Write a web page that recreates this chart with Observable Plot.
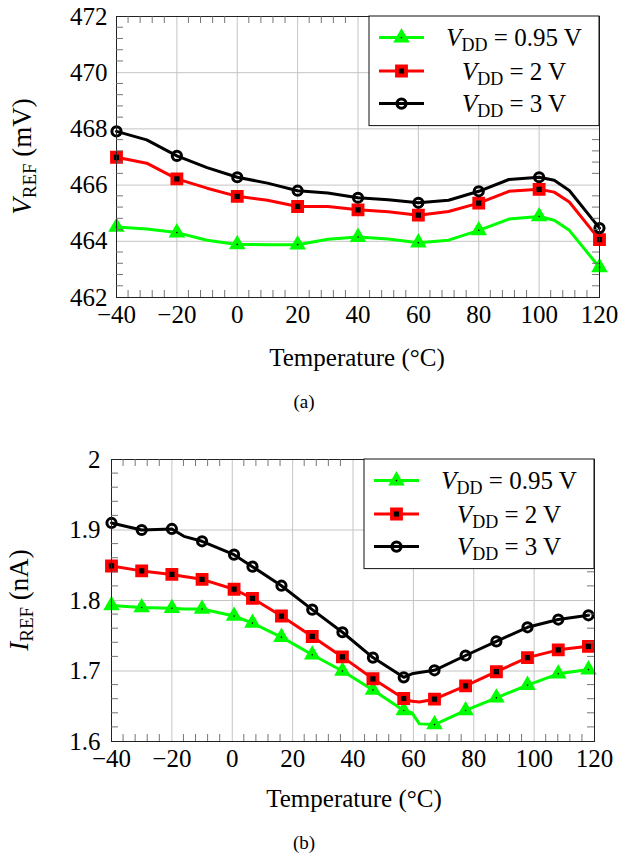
<!DOCTYPE html>
<html>
<head>
<meta charset="utf-8">
<script src="https://cdn.jsdelivr.net/npm/d3@7"></script>
<script src="https://cdn.jsdelivr.net/npm/@observablehq/plot@0.6"></script>
<style>
  html, body { margin: 0; padding: 0; background: #fff; }
  #fig { width: 620px; height: 858px; }
  #fig svg { display: block; }
  #fig text { font-family: "Liberation Serif", "Times New Roman", Times, Tinos, "Noto Serif", "DejaVu Serif", "Nimbus Roman", "Nimbus Roman No9 L", serif !important; }
</style>
</head>
<body>
<div id="fig"></div>
<script>
// ---------- DATA ----------
// (a) reference voltage (mV)
const tempA = [-40, -30, -20, -10, 0, 10, 20, 30, 40, 50, 60, 70, 80, 90, 100, 105, 110, 120];
const markTempA = [-40, -20, 0, 20, 40, 60, 80, 100, 120];
const vref095 = [464.51, 464.44, 464.31, 464.04, 463.89, 463.88, 463.88, 464.07, 464.15, 464.08, 463.95, 464.04, 464.39, 464.79, 464.88, 464.75, 464.39, 463.07];
const vref2   = [466.99, 466.78, 466.22, 465.89, 465.60, 465.46, 465.24, 465.24, 465.12, 465.05, 464.93, 465.06, 465.36, 465.78, 465.85, 465.75, 465.40, 464.06];
const vref3   = [467.91, 467.61, 467.04, 466.62, 466.28, 466.07, 465.80, 465.72, 465.55, 465.48, 465.37, 465.46, 465.78, 466.20, 466.28, 466.17, 465.81, 464.47];

// (b) reference current (nA)
const tempB = [-40, -30, -20, -16, -10, 0.6, 6.7, 16.3, 26.5, 36.5, 46.6, 56.8, 59.5, 62, 67, 77.3, 87.5, 97.8, 108, 118];
const markTempB = [-40, -30, -20, -10, 0.6, 6.7, 16.3, 26.5, 36.5, 46.6, 56.8, 67, 77.3, 87.5, 97.8, 108, 118];
const iref095 = [1.793, 1.790, 1.789, 1.788, 1.788, 1.778, 1.768, 1.748, 1.723, 1.700, 1.673, 1.644, 1.641, 1.625, 1.624, 1.644, 1.662, 1.680, 1.696, 1.702];
const iref2   = [1.849, 1.842, 1.837, 1.834, 1.830, 1.816, 1.803, 1.778, 1.749, 1.720, 1.689, 1.661, 1.657, 1.656, 1.660, 1.679, 1.699, 1.719, 1.730, 1.735];
const iref3   = [1.910, 1.900, 1.9015, 1.891, 1.884, 1.865, 1.848, 1.821, 1.787, 1.755, 1.719, 1.691, 1.696, 1.698, 1.701, 1.722, 1.742, 1.762, 1.773, 1.779];

const seriesNames = ["0.95", "2", "3"];
const seriesColors = ["#00ff00", "#ff0000", "#000000"];

const ticksX = [-40, -20, 0, 20, 40, 60, 80, 100, 120];
const ticksYA = [462, 464, 466, 468, 470, 472];
const ticksYB = [1.6, 1.7, 1.8, 1.9, 2.0];
const minorStepX = 4, minorStepYA = 0.4, minorStepYB = 0.02;

// ---------- helpers ----------
const FONT = "'Liberation Serif', 'Times New Roman', Times, Tinos, 'Noto Serif', 'DejaVu Serif', serif";
const fmtX = d => d < 0 ? "\u2212" + (-d) : String(d);
const TRI_R = 5.2, SQ_R = 5.1, CI_R = 4.6;

function tidy(temps, arrays, markTemps) {
  const rows = [];
  arrays.forEach((arr, si) => arr.forEach((v, i) => rows.push({
    s: si, t: temps[i], v, mark: markTemps.includes(temps[i])
  })));
  return rows;
}

function markSeries(rows, si) {
  const d = rows.filter(r => r.s === si);
  const m = d.filter(r => r.mark);
  const marks = [Plot.line(d, {x: "t", y: "v", stroke: seriesColors[si], strokeWidth: 3, strokeLinejoin: "round"})];
  if (si === 0) {
    marks.push(Plot.dot(m, {x: "t", y: "v", symbol: "triangle", r: TRI_R, fill: seriesColors[0], stroke: seriesColors[0], strokeWidth: 1.5}));
    marks.push(Plot.dot(m, {x: "t", y: "v", r: 0.8, fill: "#000"}));
  } else if (si === 1) {
    marks.push(Plot.dot(m, {x: "t", y: "v", symbol: "square", r: SQ_R, fill: "#000", stroke: seriesColors[1], strokeWidth: 3.8}));
  } else {
    marks.push(Plot.dot(m, {x: "t", y: "v", symbol: "circle", r: CI_R, fill: "none", stroke: "#000", strokeWidth: 3}));
  }
  return marks;
}

function makeChart(opts) {
  const rows = tidy(opts.temps, opts.series, opts.markTemps);
  const chart = Plot.plot({
    width: 620,
    height: opts.height,
    marginTop: opts.mt, marginBottom: opts.mb, marginLeft: opts.ml, marginRight: opts.mr,
    style: {fontFamily: FONT, fontSize: "25px", color: "#000", background: "#fff"},
    x: {domain: [-40, 120], ticks: ticksX, tickFormat: fmtX, tickSize: 0, tickPadding: 8, label: null},
    y: {domain: opts.yDomain, ticks: opts.yTicks, tickFormat: opts.yFmt, tickSize: 0, tickPadding: opts.yPad, label: null},
    marks: [
      Plot.gridX(ticksX, {stroke: "#c4c4c4", strokeOpacity: 1, strokeWidth: 1}),
      Plot.gridY(opts.yTicks, {stroke: "#c4c4c4", strokeOpacity: 1, strokeWidth: 1}),
      ...markSeries(rows, 0),
      ...markSeries(rows, 1),
      ...markSeries(rows, 2),
      Plot.frame({stroke: "#222", strokeWidth: 1})
    ]
  });
  const svg = d3.select(chart);
  const sx = chart.scale("x"), sy = chart.scale("y");
  const L = opts.ml, R = 620 - opts.mr, T = opts.mt, B = opts.height - opts.mb;
  const tl = 7;
  const g = svg.append("g").attr("stroke", "#666").attr("stroke-width", 0.9);
  for (let t = -40; t <= 120 + 1e-9; t += minorStepX) {
    if (ticksX.some(k => Math.abs(k - t) < 1e-6)) continue;
    const px = sx.apply(t);
    g.append("line").attr("x1", px).attr("x2", px).attr("y1", B).attr("y2", B - tl);
    g.append("line").attr("x1", px).attr("x2", px).attr("y1", T).attr("y2", T + tl);
  }
  const [y0, y1] = opts.yDomain;
  const nY = Math.round((y1 - y0) / opts.yMinor);
  for (let i = 0; i <= nY; i++) {
    const v = y0 + i * opts.yMinor;
    if (opts.yTicks.some(k => Math.abs(k - v) < 1e-6)) continue;
    const py = sy.apply(v);
    g.append("line").attr("x1", L).attr("x2", L + tl).attr("y1", py).attr("y2", py);
    g.append("line").attr("x1", R).attr("x2", R - tl).attr("y1", py).attr("y2", py);
  }
  const yl = svg.append("text")
    .attr("transform", `translate(${opts.ylx},${(T + B) / 2}) rotate(-90)`)
    .attr("text-anchor", "middle").attr("font-size", 27).attr("fill", "#000")
    .attr("dy", "0.35em");
  yl.append("tspan").attr("font-style", "italic").text(opts.yLetter);
  yl.append("tspan").attr("font-size", 19).attr("dy", 5).text("REF");
  yl.append("tspan").attr("dy", -5).text(" (" + opts.yUnit + ")");
  svg.append("text").attr("x", opts.xlx).attr("y", opts.xly).attr("text-anchor", "middle")
    .attr("font-size", 25).attr("fill", "#000").text("Temperature (\u00B0C)");
  svg.append("text").attr("x", 304).attr("y", opts.capy).attr("text-anchor", "middle")
    .attr("font-size", 19).attr("fill", "#000").text(opts.caption);
  const lw = 230, lh = 109.6;
  const lx = R - lw, ly = T;
  const lg = svg.append("g");
  lg.append("rect").attr("x", lx).attr("y", ly).attr("width", lw).attr("height", lh)
    .attr("fill", "#fff").attr("stroke", "#111").attr("stroke-width", 1);
  const rowY = [21.6, 55, 87.6];
  seriesNames.forEach((name, si) => {
    const cy = ly + rowY[si];
    lg.append("line").attr("x1", lx + 10).attr("x2", lx + 55).attr("y1", cy).attr("y2", cy)
      .attr("stroke", seriesColors[si]).attr("stroke-width", 3);
    const mx = lx + 32.5;
    if (si === 0) {
      lg.append("path").attr("transform", `translate(${mx},${cy})`)
        .attr("d", d3.symbol(d3.symbolTriangle, Math.PI * TRI_R * TRI_R)())
        .attr("fill", seriesColors[0]).attr("stroke", seriesColors[0]).attr("stroke-width", 1.5);
      lg.append("circle").attr("cx", mx).attr("cy", cy).attr("r", 0.8).attr("fill", "#000");
    } else if (si === 1) {
      lg.append("path").attr("transform", `translate(${mx},${cy})`)
        .attr("d", d3.symbol(d3.symbolSquare, Math.PI * SQ_R * SQ_R)())
        .attr("fill", "#000").attr("stroke", seriesColors[1]).attr("stroke-width", 3.8);
    } else {
      lg.append("circle").attr("cx", mx).attr("cy", cy).attr("r", CI_R)
        .attr("fill", "none").attr("stroke", "#000").attr("stroke-width", 3);
    }
    const tx = lg.append("text").attr("x", lx + 145).attr("y", cy).attr("dy", "0.35em")
      .attr("text-anchor", "middle").attr("font-size", 25).attr("fill", "#000");
    tx.append("tspan").attr("font-style", "italic").text("V");
    tx.append("tspan").attr("font-size", 18).attr("dy", 5).text("DD");
    tx.append("tspan").attr("dy", -5).text(" = " + name + " V");
  });
  return chart;
}

const fig = document.getElementById("fig");
fig.appendChild(makeChart({
  temps: tempA, series: [vref095, vref2, vref3], markTemps: markTempA,
  height: 420, mt: 16, mb: 123, ml: 116, mr: 21,
  yDomain: [462, 472], yTicks: ticksYA, yFmt: d => String(d), yPad: 9, yMinor: minorStepYA,
  ylx: 22, yLetter: "V", yUnit: "mV",
  xlx: 357, xly: 366, capy: 408, caption: "(a)"
}));
fig.appendChild(makeChart({
  temps: tempB, series: [iref095, iref2, iref3], markTemps: markTempB,
  height: 438, mt: 39, mb: 117, ml: 111, mr: 26,
  yDomain: [1.6, 2.0], yTicks: ticksYB, yFmt: d => d === 2 ? "2" : d.toFixed(1), yPad: 11, yMinor: minorStepYB,
  ylx: 19, yLetter: "I", yUnit: "nA",
  xlx: 354, xly: 387, capy: 429, caption: "(b)"
}));
</script>
</body>
</html>
